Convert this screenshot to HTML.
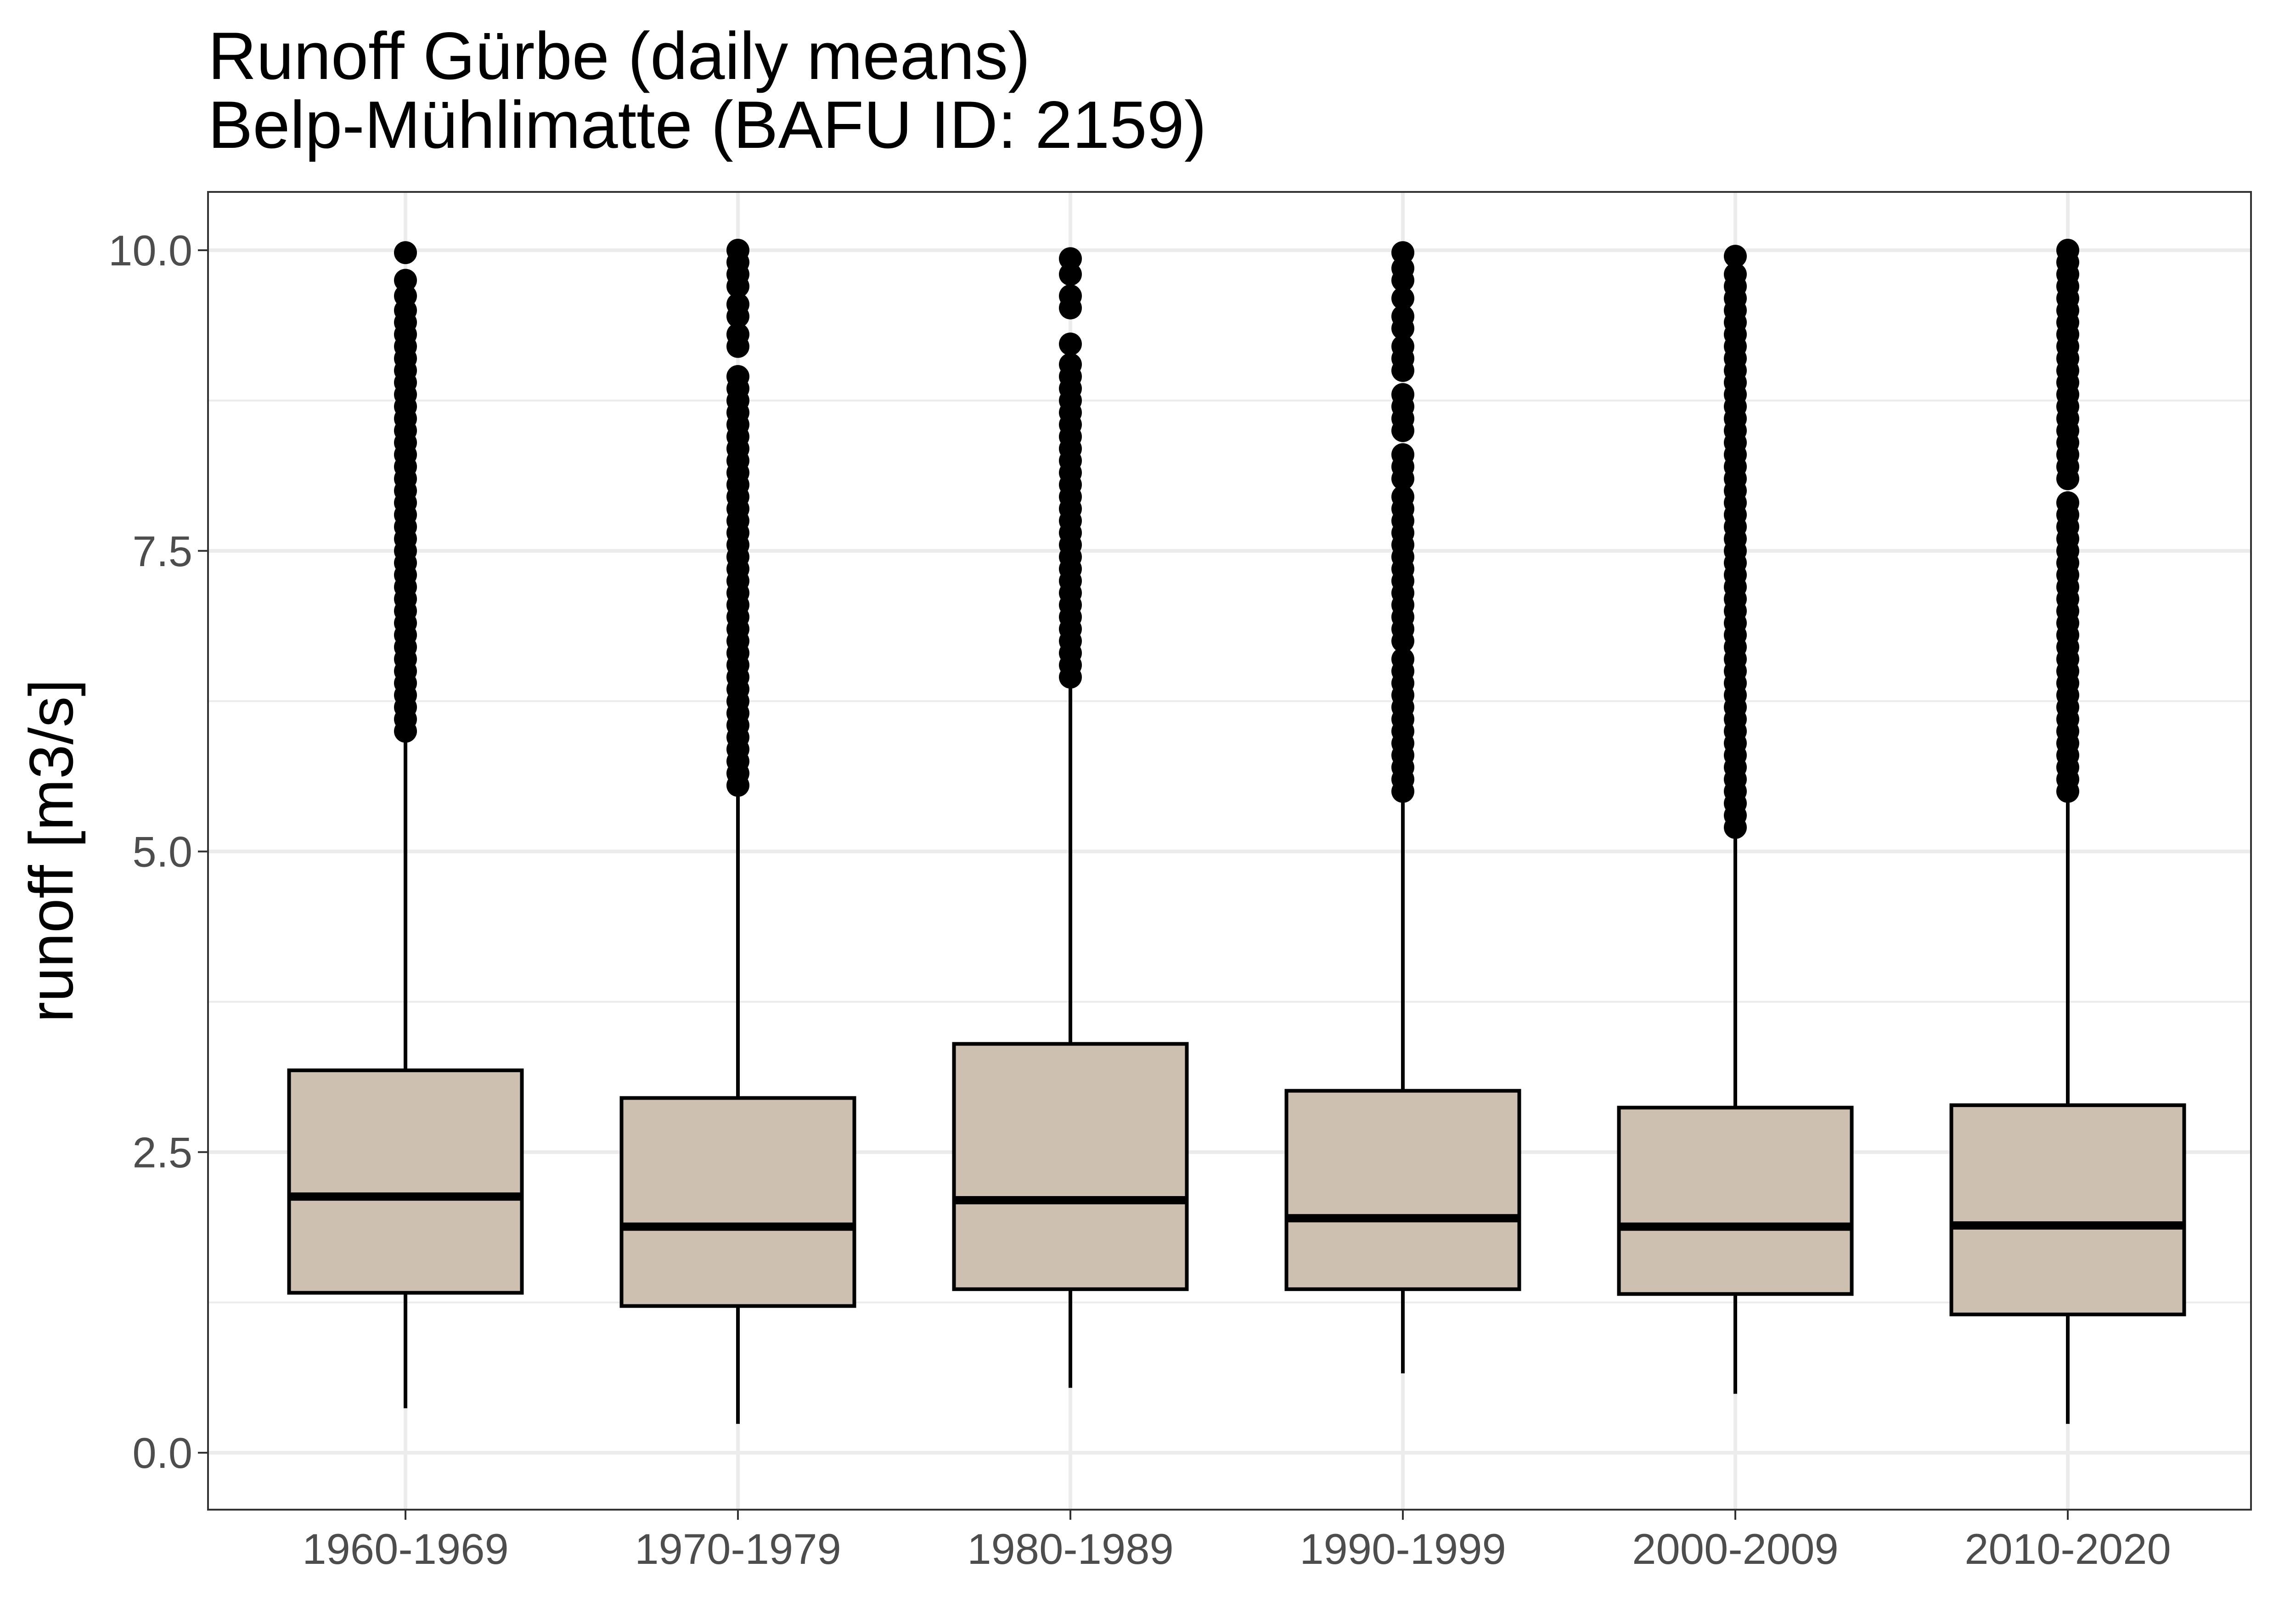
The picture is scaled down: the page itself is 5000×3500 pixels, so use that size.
<!DOCTYPE html>
<html><head><meta charset="utf-8"><style>
html,body{margin:0;padding:0;background:#fff;}
svg{display:block;font-family:"Liberation Sans",Arial,sans-serif;}
</style></head><body>
<svg id="chart" width="5000" height="3500" viewBox="0 0 5000 3500" xmlns="http://www.w3.org/2000/svg">
<rect x="0" y="0" width="5000" height="3500" fill="#fff"/>
<text x="453" y="172" font-size="146" fill="#000">Runoff Gürbe (daily means)</text>
<text x="453" y="322" font-size="146" fill="#000">Belp-Mühlimatte (BAFU ID: 2159)</text>
<text transform="translate(158,1853) rotate(-90)" text-anchor="middle" font-size="135" fill="#000">runoff [m3/s]</text>
<g id="grid"></g>
<g id="boxes"></g>
<rect x="453" y="418" width="4449" height="2870" fill="none" stroke="#333" stroke-width="4"/>
<g id="axes"></g>
</svg>
<script>
const categories = ["1960-1969","1970-1979","1980-1989","1990-1999","2000-2009","2010-2020"];
const lowerWhisker = [0.37,0.24,0.54,0.66,0.49,0.24];
const q1Values = [1.33,1.22,1.36,1.36,1.32,1.15];
const medianValues = [2.13,1.88,2.10,1.95,1.88,1.89];
const q3Values = [3.18,2.95,3.40,3.01,2.87,2.89];
const upperWhisker = [6.0,5.5,6.42,5.45,5.18,5.47];
const outliers = [
 [6.0,6.1,6.2,6.3,6.4,6.5,6.6,6.7,6.8,6.9,7.0,7.1,7.2,7.3,7.4,7.5,7.6,7.7,7.8,7.9,8.0,8.1,8.2,8.3,8.4,8.5,8.6,8.7,8.8,8.9,9.0,9.1,9.2,9.3,9.4,9.5,9.62,9.75,9.98],
 [5.55,5.65,5.75,5.85,5.95,6.05,6.15,6.25,6.35,6.45,6.55,6.65,6.75,6.85,6.95,7.05,7.15,7.25,7.35,7.45,7.55,7.65,7.75,7.85,7.95,8.05,8.15,8.25,8.35,8.45,8.55,8.65,8.75,8.85,8.95,9.2,9.3,9.45,9.55,9.7,9.8,9.9,10.0],
 [6.45,6.55,6.65,6.75,6.85,6.95,7.05,7.15,7.25,7.35,7.45,7.55,7.65,7.75,7.85,7.95,8.05,8.15,8.25,8.35,8.45,8.55,8.65,8.75,8.85,8.95,9.05,9.22,9.52,9.62,9.8,9.93],
 [5.5,5.6,5.7,5.8,5.9,6.0,6.1,6.2,6.3,6.4,6.5,6.6,6.75,6.85,6.95,7.05,7.15,7.25,7.35,7.45,7.55,7.65,7.75,7.85,7.95,8.1,8.2,8.3,8.5,8.6,8.7,8.8,9.0,9.1,9.2,9.35,9.45,9.6,9.75,9.85,9.98],
 [5.2,5.3,5.4,5.5,5.6,5.7,5.8,5.9,6.0,6.1,6.2,6.3,6.4,6.5,6.6,6.7,6.8,6.9,7.0,7.1,7.2,7.3,7.4,7.5,7.6,7.7,7.8,7.9,8.0,8.1,8.2,8.3,8.4,8.5,8.6,8.7,8.8,8.9,9.0,9.1,9.2,9.3,9.4,9.5,9.6,9.7,9.8,9.95],
 [5.5,5.6,5.7,5.8,5.9,6.0,6.1,6.2,6.3,6.4,6.5,6.6,6.7,6.8,6.9,7.0,7.1,7.2,7.3,7.4,7.5,7.6,7.7,7.8,7.9,8.1,8.2,8.3,8.4,8.5,8.6,8.7,8.8,8.9,9.0,9.1,9.2,9.3,9.4,9.5,9.6,9.7,9.8,9.9,10.0]
];
const yTicks = [0,2.5,5,7.5,10];
const yTickLabels = ["0.0","2.5","5.0","7.5","10.0"];
const yMinor = [1.25,3.75,6.25,8.75];

const NS="http://www.w3.org/2000/svg";
const L=453,R=4902,T=418,B=3288;
const yScale=v=>3164-v*261.9;
const xScale=i=>883+i*724;
const BW=507;
function mk(tag,attrs,parent){const e=document.createElementNS(NS,tag);for(const k in attrs)e.setAttribute(k,attrs[k]);parent.appendChild(e);return e;}
const grid=document.getElementById('grid'),boxes=document.getElementById('boxes'),axes=document.getElementById('axes');
yMinor.forEach(v=>{const l=mk('line',{x1:L,x2:R,y1:yScale(v),y2:yScale(v),stroke:'#ebebeb','stroke-width':4},grid);

});
yTicks.forEach((v,i)=>{const l=mk('line',{x1:L,x2:R,y1:yScale(v),y2:yScale(v),stroke:'#ebebeb','stroke-width':8},grid);


const t=mk('line',{x1:L-22,x2:L,y1:yScale(v),y2:yScale(v),stroke:'#333','stroke-width':4},axes);


const tx=mk('text',{x:L-34,y:yScale(v)+33,'text-anchor':'end','font-size':94,fill:'#4d4d4d'},axes);
tx.textContent=yTickLabels[i];

});
categories.forEach((c,i)=>{const x=xScale(i);
const g=mk('line',{x1:x,x2:x,y1:T,y2:B,stroke:'#ebebeb','stroke-width':8},grid);


const t=mk('line',{x1:x,x2:x,y1:B,y2:B+22,stroke:'#333','stroke-width':4},axes);


const tx=mk('text',{x:x,y:B+118,'text-anchor':'middle','font-size':94,fill:'#4d4d4d'},axes);
tx.textContent=c;


const grp=mk('g',{},boxes);


mk('line',{x1:x,x2:x,y1:yScale(upperWhisker[i]),y2:yScale(q3Values[i]),stroke:'#000','stroke-width':8},grp);
mk('line',{x1:x,x2:x,y1:yScale(q1Values[i]),y2:yScale(lowerWhisker[i]),stroke:'#000','stroke-width':8},grp);
mk('rect',{x:x-BW/2,y:yScale(q3Values[i]),width:BW,height:yScale(q1Values[i])-yScale(q3Values[i]),fill:'#cdc0b0',stroke:'#000','stroke-width':8},grp);
mk('line',{x1:x-BW/2,x2:x+BW/2,y1:yScale(medianValues[i]),y2:yScale(medianValues[i]),stroke:'#000','stroke-width':18},grp);
outliers[i].forEach(v=>{const d=mk('circle',{cx:x,cy:yScale(v),r:25,fill:'#000'},grp);

});
});
</script>
</body></html>
